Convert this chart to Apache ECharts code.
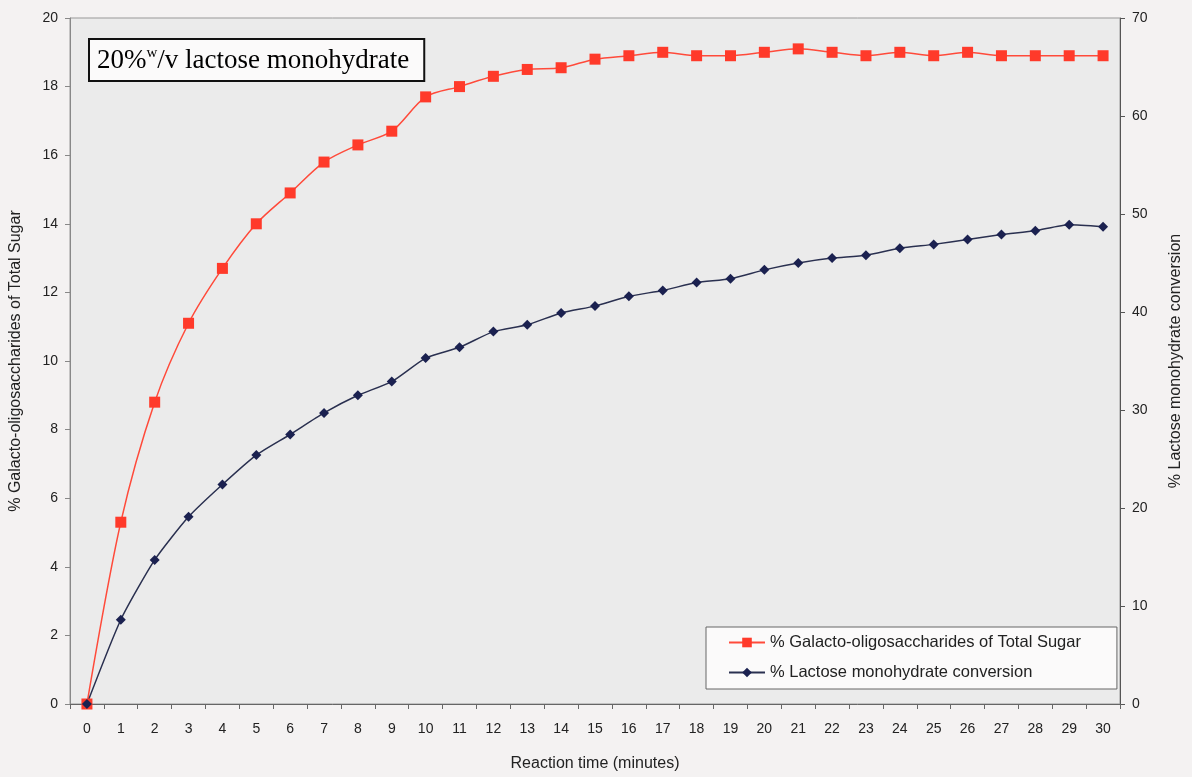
<!DOCTYPE html>
<html><head><meta charset="utf-8">
<script src="https://cdn.jsdelivr.net/npm/echarts@6/dist/echarts.min.js"></script>
<style>html,body{margin:0;padding:0;background:#f4f2f2;}#c{width:1192px;height:777px;}</style>
</head><body><div id="c"></div>
<script>
const minutes = ['0','1','2','3','4','5','6','7','8','9','10','11','12','13','14','15','16','17','18','19','20','21','22','23','24','25','26','27','28','29','30'];
const gosPercent = [0,5.3,8.8,11.1,12.7,14.0,14.9,15.8,16.3,16.7,17.7,18.0,18.3,18.5,18.55,18.8,18.9,19.0,18.9,18.9,19.0,19.1,19.0,18.9,19.0,18.9,19.0,18.9,18.9,18.9,18.9];
const lactoseConversion = [0,8.6,14.7,19.1,22.4,25.4,27.5,29.7,31.5,32.9,35.3,36.4,38.0,38.7,39.9,40.6,41.6,42.2,43.0,43.4,44.3,45.0,45.5,45.8,46.5,46.9,47.4,47.9,48.3,48.9,48.7];
const seriesNames = ['% Galacto-oligosaccharides of Total Sugar','% Lactose monohydrate conversion'];

const chart = echarts.init(document.getElementById('c'));
const labelFont = {fontFamily:'Liberation Sans, Arial', fontSize:14, color:'#222'};
chart.setOption({
  backgroundColor:'#f4f2f2',
  animation:false,
  grid:{left:70,right:70,top:18,bottom:73,show:true,backgroundColor:'#ebebeb',borderColor:'#999',borderWidth:1},
  legend:{
    left:706,top:627,orient:'vertical',itemGap:13,itemWidth:36,itemHeight:12,
    backgroundColor:'#fbfafa',borderColor:'#666',borderWidth:1,padding:[7,36,8,22],
    textStyle:{fontFamily:'Liberation Sans, Arial',fontSize:16.5,color:'#222'},
    data:seriesNames
  },
  graphic:[{
    type:'text',left:88,top:38,
    style:{
      text:'{a|20%}{s|w}{a|/v lactose monohydrate}',
      rich:{
        a:{fontFamily:'Liberation Serif, Times New Roman',fontSize:27,color:'#111'},
        s:{fontFamily:'Liberation Serif, Times New Roman',fontSize:15,color:'#111',verticalAlign:'top',padding:[0,0,14,0]}
      },
      backgroundColor:'#fbfafa',borderColor:'#111',borderWidth:2,padding:[6,14,5,7]
    }
  }],
  xAxis:{
    type:'category',data:minutes,boundaryGap:true,
    name:'Reaction time (minutes)',nameLocation:'middle',nameGap:52,
    nameTextStyle:{fontFamily:'Liberation Sans, Arial',fontSize:16,color:'#222'},
    axisLine:{lineStyle:{color:'#666'}},
    axisTick:{show:true,length:5,lineStyle:{color:'#666'}},
    axisLabel:Object.assign({margin:18,interval:0},labelFont),
    splitLine:{show:false}
  },
  yAxis:[{
    type:'value',min:0,max:20,interval:2,position:'left',
    name:'% Galacto-oligosaccharides of Total Sugar',nameLocation:'middle',nameGap:46,
    nameTextStyle:{fontFamily:'Liberation Sans, Arial',fontSize:16,color:'#222'},
    axisLine:{show:true,lineStyle:{color:'#888'}},
    axisTick:{show:true,length:5,lineStyle:{color:'#888'}},
    axisLabel:Object.assign({margin:12},labelFont),
    splitLine:{show:false}
  },{
    type:'value',min:0,max:70,interval:10,position:'right',
    name:'% Lactose monohydrate conversion',nameLocation:'middle',nameGap:48,
    nameTextStyle:{fontFamily:'Liberation Sans, Arial',fontSize:16,color:'#222'},
    axisLine:{show:true,lineStyle:{color:'#555'}},
    axisTick:{show:true,length:5,lineStyle:{color:'#555'}},
    axisLabel:Object.assign({margin:12},labelFont),
    splitLine:{show:false}
  }],
  series:[{
    name:seriesNames[0],type:'line',yAxisIndex:0,data:gosPercent,smooth:0.3,
    symbol:'rect',symbolSize:11,
    itemStyle:{color:'#ff3a2a'},lineStyle:{color:'#ff4a3a',width:1.5}
  },{
    name:seriesNames[1],type:'line',yAxisIndex:1,data:lactoseConversion,smooth:0.2,
    symbol:'diamond',symbolSize:10,
    itemStyle:{color:'#1b2150'},lineStyle:{color:'#2a3050',width:1.5}
  }]
});
</script></body></html>
